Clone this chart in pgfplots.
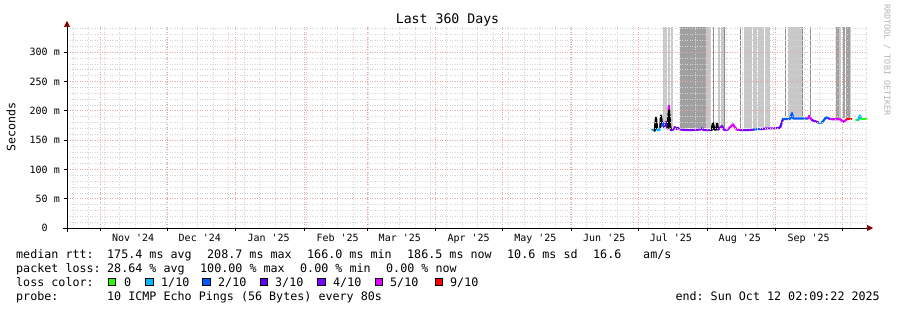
\documentclass[border=0pt]{standalone}
\usepackage{fontspec}
\setmonofont{DejaVu Sans Mono}
\renewcommand{\familydefault}{\ttdefault}
\usepackage{pgfplots}
\pgfplotsset{compat=1.18}
\usetikzlibrary{arrows.meta}
\definecolor{cA}{RGB}{38,255,0}
\definecolor{cB}{RGB}{0,184,255}
\definecolor{cC}{RGB}{0,89,255}
\definecolor{cD}{RGB}{94,0,255}
\definecolor{cE}{RGB}{126,0,255}
\definecolor{cF}{RGB}{221,0,255}
\definecolor{cG}{RGB}{255,0,0}
\definecolor{smokeL}{RGB}{200,200,200}
\definecolor{smokeD}{RGB}{160,160,160}
\definecolor{smokeK}{RGB}{140,140,140}
\definecolor{mgrid}{RGB}{240,160,160}
\definecolor{ngrid}{RGB}{212,212,212}
\definecolor{arr}{RGB}{128,0,0}
\definecolor{wm}{RGB}{180,180,180}
\newcommand{\lf}{\fontsize{11.7}{14}\selectfont}
\newcommand{\lt}[3]{\node[anchor=base west, inner sep=0pt, font=\lf] at (#1,#2) {#3};}
\newcommand{\sq}[2]{\node[draw=black, fill=#2, line width=0.7pt, minimum size=7.5pt, inner sep=0pt] at (#1,28) {};}
\begin{document}
\frenchspacing
\begin{tikzpicture}[x=1pt,y=1pt]
\useasboundingbox (0,0) rectangle (897,310);
\begin{axis}[
  at={(67pt,82pt)}, anchor=south west, scale only axis,
  width=800pt, height=201pt,
  xmin=0, xmax=360, ymin=0, ymax=343,
  axis lines=left,
  axis on top,
  x axis line style={-{Triangle[length=6pt,width=6pt,color=arr]}, shorten >=-6pt, shorten <=-4pt, line width=0.6pt},
  y axis line style={-{Triangle[length=6pt,width=6pt,color=arr]}, shorten >=-6pt, shorten <=-4pt, line width=0.6pt},
  xtick={14.91,44.91,75.91,106.91,134.91,165.91,195.91,226.91,256.91,287.91,318.91,348.91},
  xticklabels={Nov \textquotesingle 24,Dec \textquotesingle 24,Jan \textquotesingle 25,Feb \textquotesingle 25,Mar \textquotesingle 25,Apr \textquotesingle 25,May \textquotesingle 25,Jun \textquotesingle 25,Jul \textquotesingle 25,Aug \textquotesingle 25,Sep \textquotesingle 25,},
  minor xtick={2.7,9.7,...,359.7},
  ytick={0,50,100,150,200,250,300},
  yticklabels={0\hphantom{~m},50 m,100 m,150 m,200 m,250 m,300 m},
  minor ytick={10,20,30,40,60,70,80,90,110,120,130,140,160,170,180,190,210,220,230,240,260,270,280,290,310,320,330,340},
  grid=both,
  major grid style={mgrid, line width=0.6pt, dash pattern=on 1pt off 1.5pt},
  minor grid style={ngrid, line width=0.6pt, dash pattern=on 1pt off 1.5pt},
  tick align=outside,
  major tick length=3pt, minor tick length=0pt,
  tick style={black, line width=0.6pt},
  xticklabel style={font=\fontsize{10}{12}\selectfont, inner sep=0pt, anchor=north, xshift=33pt, yshift=-3pt},
  yticklabel style={font=\fontsize{10}{12}\selectfont, inner sep=0pt, anchor=east, xshift=-4pt},
  /pgf/number format/assume math mode=true,
  clip=false,
]
% smoke
\addplot[fill=smokeL, draw=none, forget plot] coordinates {(268.2,175) (268.2,343) (270.0,343) (270.0,175)};
\addplot[fill=smokeL, draw=none, forget plot] coordinates {(270.45,175) (270.45,343) (271.35,343) (271.35,175)};
\addplot[fill=smokeL, draw=none, forget plot] coordinates {(271.8,172) (271.8,343) (272.7,343) (272.7,172)};
\addplot[fill=smokeD, draw=none, forget plot] coordinates {(275.85,171) (275.85,343) (287.55,343) (287.55,171)};
\addplot[fill=smokeL, draw=none, forget plot] coordinates {(287.55,171) (287.55,343) (289.8,343) (289.8,171)};
\addplot[fill=smokeK, draw=none, forget plot] coordinates {(290.7,172) (290.7,343) (291.15,343) (291.15,172)};
\addplot[fill=smokeL, draw=none, forget plot] coordinates {(292.95,171) (292.95,343) (293.85,343) (293.85,171)};
\addplot[fill=smokeL, draw=none, forget plot] coordinates {(294.3,171) (294.3,343) (295.65,343) (295.65,171)};
\addplot[fill=smokeK, draw=none, forget plot] coordinates {(295.65,171) (295.65,343) (296.1,343) (296.1,171)};
\addplot[fill=smokeK, draw=none, forget plot] coordinates {(302.85,171) (302.85,343) (303.3,343) (303.3,171)};
\addplot[fill=smokeL, draw=none, forget plot] coordinates {(304.65,171) (304.65,343) (308.25,343) (308.25,171)};
\addplot[fill=smokeL, draw=none, forget plot] coordinates {(308.7,171) (308.7,343) (310.5,343) (310.5,171)};
\addplot[fill=smokeL, draw=none, forget plot] coordinates {(310.95,172) (310.95,343) (313.65,343) (313.65,172)};
\addplot[fill=smokeL, draw=none, forget plot] coordinates {(314.1,172) (314.1,343) (316.35,343) (316.35,172)};
\addplot[fill=smokeK, draw=none, forget plot] coordinates {(323.1,189) (323.1,343) (323.55,343) (323.55,189)};
\addplot[fill=smokeL, draw=none, forget plot] coordinates {(324.45,189) (324.45,343) (330.75,343) (330.75,189)};
\addplot[fill=smokeK, draw=none, forget plot] coordinates {(330.75,189) (330.75,343) (331.2,343) (331.2,189)};
\addplot[fill=smokeK, draw=none, forget plot] coordinates {(334.35,190) (334.35,343) (334.8,343) (334.8,190)};
\addplot[fill=smokeD, draw=none, forget plot] coordinates {(346.05,188) (346.05,343) (347.4,343) (347.4,188)};
\addplot[fill=smokeL, draw=none, forget plot] coordinates {(347.4,188) (347.4,343) (348.3,343) (348.3,188)};
\addplot[fill=smokeD, draw=none, forget plot] coordinates {(349.2,188) (349.2,343) (350.1,343) (350.1,188)};
\addplot[fill=smokeD, draw=none, forget plot] coordinates {(350.55,188) (350.55,343) (352.35,343) (352.35,188)};
\addplot[fill=smokeL, draw=none, forget plot] coordinates {(352.35,188) (352.35,343) (352.8,343) (352.8,188)};
% median rtt segments
\pgfplotsset{rtt/.style={line width=2.2pt, line join=round, line cap=round, forget plot, mark=none}}
\addplot[rtt, cB] coordinates {(263.25,168) (264.5,166)};
\addplot[rtt, black] coordinates {(264.5,166) (265.05,188) (265.6,168)};
\addplot[rtt, cB] coordinates {(265.6,168) (266.5,167) (267.0,172)};
\addplot[rtt, black] coordinates {(267.0,172) (267.3,192) (267.8,175)};
\addplot[rtt, cC] coordinates {(267.8,175) (268.2,179) (268.7,172)};
\addplot[rtt, cD] coordinates {(268.7,172) (269.55,181) (270.3,170)};
\addplot[rtt, black] coordinates {(270.3,170) (270.9,207) (271.35,175) (271.8,167)};
\addplot[rtt, cF] coordinates {(270.75,203) (270.9,208.7)};
\addplot[rtt, cE] coordinates {(271.8,167) (272.7,168) (273.6,172) (274.3,169) (274.95,171) (276,168) (280,167) (285,168) (285.75,170) (286.5,167) (290,167)};
\addplot[rtt, black] coordinates {(290,167) (290.7,179) (291.3,168) (292.2,168) (292.5,178) (293,168)};
\addplot[rtt, cE] coordinates {(293,168) (294.75,174) (295.5,168) (297,167)};
\addplot[rtt, cF] coordinates {(297,167) (298.5,172) (299.7,177) (300.5,172) (301.5,168) (303,167)};
\addplot[rtt, cE] coordinates {(303,167) (306,167) (309,168)};
\addplot[rtt, cC] coordinates {(309,168) (311,169) (312.5,169)};
\addplot[rtt, cE] coordinates {(312.5,169) (315,170) (317.7,170) (320.85,171)};
\addplot[rtt, cD] coordinates {(320.85,171) (322.2,186)};
\addplot[rtt, cC] coordinates {(322.2,186) (325.35,186) (326.25,196) (326.7,187) (330,187) (333.45,187)};
\addplot[rtt, cF] coordinates {(333.45,187) (333.9,191) (335.25,184)};
\addplot[rtt, cE] coordinates {(335.25,184) (337.5,181) (338.5,179)};
\addplot[rtt, cB] coordinates {(338.5,179) (339.75,180)};
\addplot[rtt, cC] coordinates {(339.75,180) (341,186) (341.55,189) (343.35,186)};
\addplot[rtt, cF] coordinates {(343.35,186) (344.7,185.6) (348,185.6) (349.2,181) (351,185.6)};
\addplot[rtt, cG] coordinates {(351,185.6) (353.0,185.6)};
\addplot[rtt, cA] coordinates {(355.05,184) (356,184)};
\addplot[rtt, cB] coordinates {(356,184) (356.85,192) (357.4,186)};
\addplot[rtt, cA] coordinates {(357.4,186) (357.75,186) (359.8,186)};
\end{axis}
% title and labels
\node[anchor=base, inner sep=0pt, font=\fontsize{13.2}{15}\selectfont] at (447.5,286) {Last 360 Days};
\node[rotate=90, inner sep=0pt, font=\fontsize{11.6}{14}\selectfont] at (11,183) {Seconds};
\node[rotate=-90, inner sep=0pt, text=wm, font=\fontsize{8.4}{10}\selectfont] at (887,250) {RRDTOOL / TOBI OETIKER};
% legend
\lt{16}{51.5}{median rtt:}
\lt{107}{51.5}{175.4 ms avg}
\lt{207}{51.5}{208.7 ms max}
\lt{307}{51.5}{166.0 ms min}
\lt{407}{51.5}{186.5 ms now}
\lt{507}{51.5}{10.6 ms sd}
\lt{593}{51.5}{16.6}
\lt{643}{51.5}{am/s}
\lt{16}{37.5}{packet loss:}
\lt{107}{37.5}{28.64 \% avg}
\lt{200}{37.5}{100.00 \% max}
\lt{300}{37.5}{0.00 \% min}
\lt{386}{37.5}{0.00 \% now}
\lt{16}{23.5}{loss color:}
\sq{112}{cA}\lt{124}{23.5}{0}
\sq{149.5}{cB}\lt{161}{23.5}{1/10}
\sq{206.5}{cC}\lt{218}{23.5}{2/10}
\sq{263.8}{cD}\lt{275}{23.5}{3/10}
\sq{321.2}{cE}\lt{333}{23.5}{4/10}
\sq{378.8}{cF}\lt{390}{23.5}{5/10}
\sq{438.8}{cG}\lt{450}{23.5}{9/10}
\lt{16}{9.5}{probe:}
\lt{107}{9.5}{10 ICMP Echo Pings (56 Bytes) every 80s}
\node[anchor=base east, inner sep=0pt, font=\lf] at (880,9.5) {end: Sun Oct 12 02:09:22 2025};
\end{tikzpicture}
\end{document}
